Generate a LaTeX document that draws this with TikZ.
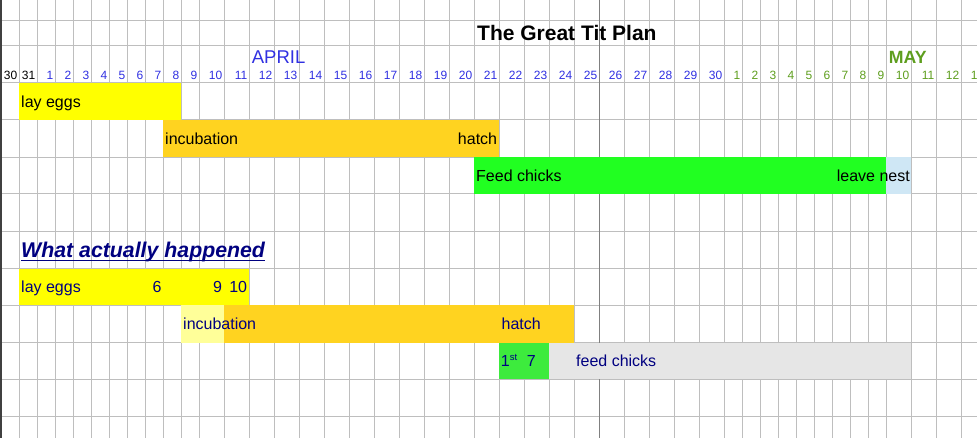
\documentclass[tikz,border=0pt]{standalone}
\usepackage{fontspec}
\setmainfont{Liberation Sans}
\definecolor{gitter}{RGB}{190,190,190}
\definecolor{eggyellow}{RGB}{255,255,0}
\definecolor{broodgold}{RGB}{255,211,32}
\definecolor{palegold}{RGB}{255,255,153}
\definecolor{chickgreen}{RGB}{33,255,33}
\definecolor{realgreen}{RGB}{61,235,61}
\definecolor{nestblue}{RGB}{207,231,245}
\definecolor{feedgrey}{RGB}{230,230,230}
\definecolor{navytext}{RGB}{0,0,128}
\definecolor{aprilblue}{RGB}{48,48,225}
\definecolor{maygreen}{RGB}{94,158,30}

\begin{document}
\begin{tikzpicture}[x=1pt, y=-1pt,
	gridline/.style={gitter, line width=1pt},
	daylbl/.style={anchor=base east, inner sep=0pt, font=\fontsize{12}{14}\selectfont},
	barlbl/.style={anchor=base west, inner sep=0pt, font=\fontsize{16}{19}\selectfont}]

	\useasboundingbox (0,0) rectangle (977,438);
	\clip (0,0) rectangle (977,438);

	% sheet grid
	\foreach \x in {19,37,...,181,199,224,...,724,742,760,...,886,911,936,961}
		\draw[gridline] (\x,0) -- (\x,438);
	\foreach \y in {20.7,45.3,82.7,120,157.3,194,231.3,268.7,305.3,342.7,379.3,416.7}
		\draw[gridline] (0,\y) -- (977,\y);
	\draw[gray, line width=1pt] (599,0) -- (599,438);
	\draw[darkgray, line width=1.5pt] (0.75,0) -- (0.75,438);

	% plan
	\fill[eggyellow] (19,82.7) rectangle (181,120);
	\fill[broodgold] (163,120) rectangle (499,157.3);
	\fill[chickgreen] (474,157.3) rectangle (886,194);
	\fill[nestblue] (886,157.3) rectangle (911,194);

	% what happened
	\fill[eggyellow] (19,268.7) rectangle (249,305.3);
	\fill[palegold] (181,305.3) rectangle (224,342.7);
	\fill[broodgold] (224,305.3) rectangle (574,342.7);
	\fill[realgreen] (499,342.7) rectangle (549,379.3);
	\fill[feedgrey] (549,342.7) rectangle (911,379.3);

	\node[anchor=base west, inner sep=0pt, font=\bfseries\fontsize{21}{25}\selectfont] (title) at (477,40.7) {The Great Tit Plan};
	\node[anchor=base west, inner sep=0pt, aprilblue, font=\fontsize{18.5}{22}\selectfont] (aprillbl) at (251.7,64) {APRIL};
	\node[anchor=base west, inner sep=0pt, maygreen, font=\bfseries\fontsize{17.7}{21}\selectfont] (maylbl) at (888.7,64) {MAY};

	% day numbers
	\node[daylbl] (mar30) at (17.5,80) {30};
	\node[daylbl] (mar31) at (35.5,80) {31};
	\foreach \d in {1,...,30} {
		\pgfmathsetmacro\xr{\d<10 ? 37+18*\d : 25*\d-26}
		\node[daylbl, aprilblue] (apr\d) at (\xr-1.5,80) {\d};
	}
	\foreach \d in {1,...,13} {
		\pgfmathsetmacro\xr{\d<10 ? 724+18*\d : 25*\d+661}
		\node[daylbl, maygreen] (may\d) at (\xr-1.5,80) {\d};
	}

	\node[barlbl] (layplan) at (21,108) {lay eggs};
	\node[barlbl] (incplan) at (165,145) {incubation};
	\node[barlbl, anchor=base east] (hatchplan) at (497.3,145) {hatch};
	\node[barlbl] (feedplan) at (476,181.7) {Feed chicks};
	\node[barlbl, anchor=base east] (leaveplan) at (910,181.7) {leave nest};

	\node[barlbl, navytext, font=\bfseries\itshape\fontsize{21.3}{25}\selectfont] (actual) at (21,257.3) {What actually happened};
	\draw[navytext, line width=1.4pt] ([yshift=-3.4pt]actual.base west) -- ([yshift=-3.4pt]actual.base east);

	\node[barlbl, navytext] (layreal) at (21,292.7) {lay eggs};
	\node[barlbl, navytext, anchor=base east] (egg6) at (161.7,292.7) {6};
	\node[barlbl, navytext, anchor=base east] (egg9) at (222.3,292.7) {9};
	\node[barlbl, navytext, anchor=base east] (egg10) at (247.3,292.7) {10};
	\node[barlbl, navytext] (increal) at (183,329.3) {incubation};
	\node[barlbl, navytext] (hatchreal) at (501.5,329.3) {hatch};
	\node[barlbl, navytext] (firstreal) at (500.7,366.7) {1{\fontsize{9.5}{10}\selectfont\raisebox{6.5pt}{st}}};
	\node[barlbl, navytext] (sevenreal) at (526.7,366.7) {7};
	\node[barlbl, navytext] (feedreal) at (576,366.7) {feed chicks};

\end{tikzpicture}
\end{document}
